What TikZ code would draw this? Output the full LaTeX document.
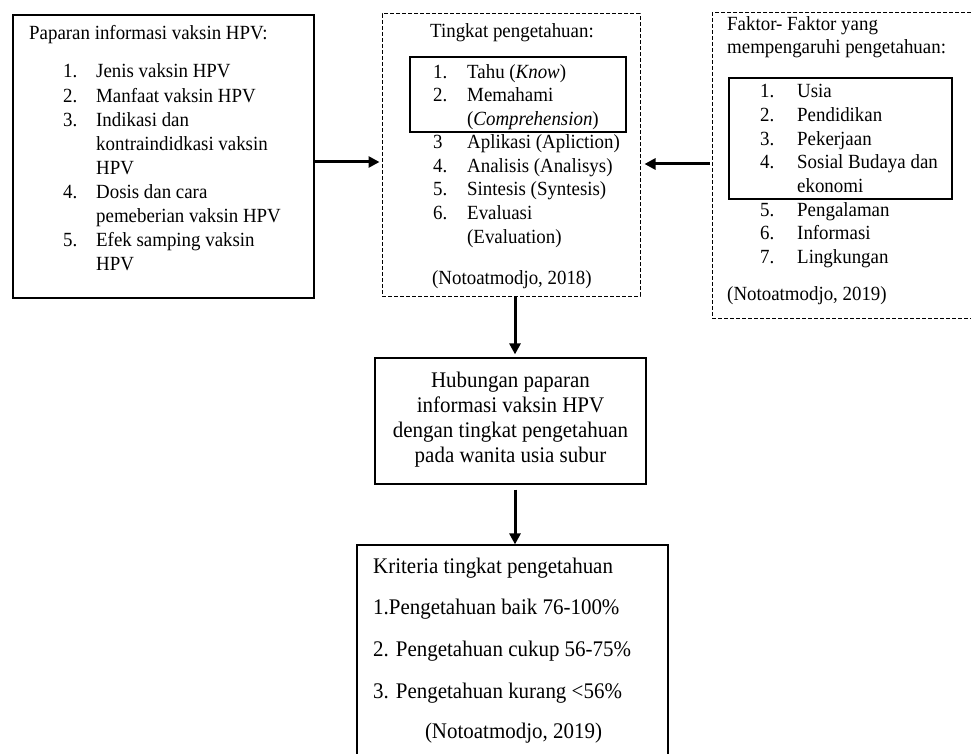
\documentclass[tikz,border=0pt]{standalone}
\usepackage{fontspec}
\setmainfont[FakeStretch=0.94]{Liberation Serif}
\usetikzlibrary{arrows.meta}
\begin{document}
\begin{tikzpicture}[x=1pt,y=-1pt,
  solidbox/.style={draw=black, line width=1.2pt, rectangle, inner sep=0pt},
  dashbox/.style={draw=black, line width=1pt, dash pattern=on 4pt off 2pt, rectangle, inner sep=0pt},
  txt/.style={anchor=base west, inner sep=0pt, font=\fontsize{20.1}{23.6}\selectfont},
  btxt/.style={anchor=base west, inner sep=0pt, font=\fontsize{22.3}{26}\selectfont},
  ctxt/.style={anchor=base, inner sep=0pt, font=\fontsize{22.3}{26}\selectfont},
  conn/.style={line width=3pt, -{Triangle[length=11pt,width=11pt]}},
]
\useasboundingbox (0,0) rectangle (971,754);
\clip (0,0) rectangle (971,754);

% boxes
\node[solidbox, minimum width=301pt, minimum height=283pt] (b1) at (163.5,156.5) {};
\node[dashbox, minimum width=258pt, minimum height=282pt] (b2) at (511,155) {};
\node[solidbox, minimum width=216pt, minimum height=75pt] (b2in) at (518,94.5) {};
\node[dashbox, minimum width=268pt, minimum height=305pt] (b3) at (846,165.5) {};
\node[solidbox, minimum width=223pt, minimum height=121pt] (b3in) at (840.5,138.5) {};
\node[solidbox, minimum width=271pt, minimum height=126pt] (b4) at (510.5,421) {};
\node[solidbox, minimum width=311pt, minimum height=220pt] (b5) at (512.5,655) {};

% box 1 text
\node[txt] (b1t) at (29,40) {Paparan informasi vaksin HPV:};
\foreach \n/\t/\y [count=\i] in {1./Jenis vaksin HPV/78, 2./Manfaat vaksin HPV/102.1, 3./Indikasi dan/126.2, /kontraindidkasi vaksin/150.3, /HPV/174.4, 4./Dosis dan cara/198.5, /pemeberian vaksin HPV/222.6, 5./Efek samping vaksin/246.7, /HPV/270.8}
{ \node[txt] (b1n\i) at (63,\y) {\n}; \node[txt] (b1i\i) at (96,\y) {\t}; }

% box 2 text
\node[txt] (b2t) at (430,38) {Tingkat pengetahuan:};
\foreach \n/\t/\y [count=\i] in {1./Tahu (\textit{Know})/78.5, 2./Memahami/102, /(\textit{Comprehension})/125.5, 3/Aplikasi (Apliction)/149, 4./Analisis (Analisys)/172.5, 5./Sintesis (Syntesis)/196, 6./Evaluasi/219.5, /(Evaluation)/243}
{ \node[txt] (b2n\i) at (433,\y) {\n}; \node[txt] (b2i\i) at (467,\y) {\t}; }
\node[txt] (b2r) at (432,284) {(Notoatmodjo, 2018)};

% box 3 text
\node[txt] (b3t1) at (727,31) {Faktor- Faktor yang};
\node[txt] (b3t2) at (727,54) {mempengaruhi pengetahuan:};
\foreach \n/\t/\y [count=\i] in {1./Usia/98, 2./Pendidikan/121.6, 3./Pekerjaan/145.2, 4./Sosial Budaya dan/168.8, /ekonomi/192.4, 5./Pengalaman/216, 6./Informasi/239.6, 7./Lingkungan/263.2}
{ \node[txt] (b3n\i) at (760,\y) {\n}; \node[txt] (b3i\i) at (797,\y) {\t}; }
\node[txt] (b3r) at (727,300) {(Notoatmodjo, 2019)};

% box 4 text
\node[ctxt] (b4l1) at (510.5,387) {Hubungan paparan};
\node[ctxt] (b4l2) at (510.5,412) {informasi vaksin HPV};
\node[ctxt] (b4l3) at (510.5,437) {dengan tingkat pengetahuan};
\node[ctxt] (b4l4) at (510.5,462) {pada wanita usia subur};

% box 5 text
\node[btxt] (b5l1) at (373,573) {Kriteria tingkat pengetahuan};
\node[btxt] (b5l2) at (373,614) {1.Pengetahuan baik 76-100\%};
\node[btxt] (b5l3) at (373,656) {2. Pengetahuan cukup 56-75\%};
\node[btxt] (b5l4) at (373,698) {3. Pengetahuan kurang <56\%};
\node[ctxt] (b5r) at (513.5,738) {(Notoatmodjo, 2019)};

% connectors
\coordinate (ya) at (0,162);
\coordinate (yb) at (0,164);
\coordinate (xv) at (515,0);
\draw[conn, shorten >=2pt] (b1.east |- ya) -- (b2.west |- ya);
\draw[conn, shorten <=2pt, shorten >=4pt] (b3.west |- yb) -- (b2.east |- yb);
\draw[conn, shorten >=3pt] (b2.south -| xv) -- (b4.north -| xv);
\draw[conn, shorten <=5pt] (b4.south -| xv) -- (b5.north -| xv);
\end{tikzpicture}
\end{document}
